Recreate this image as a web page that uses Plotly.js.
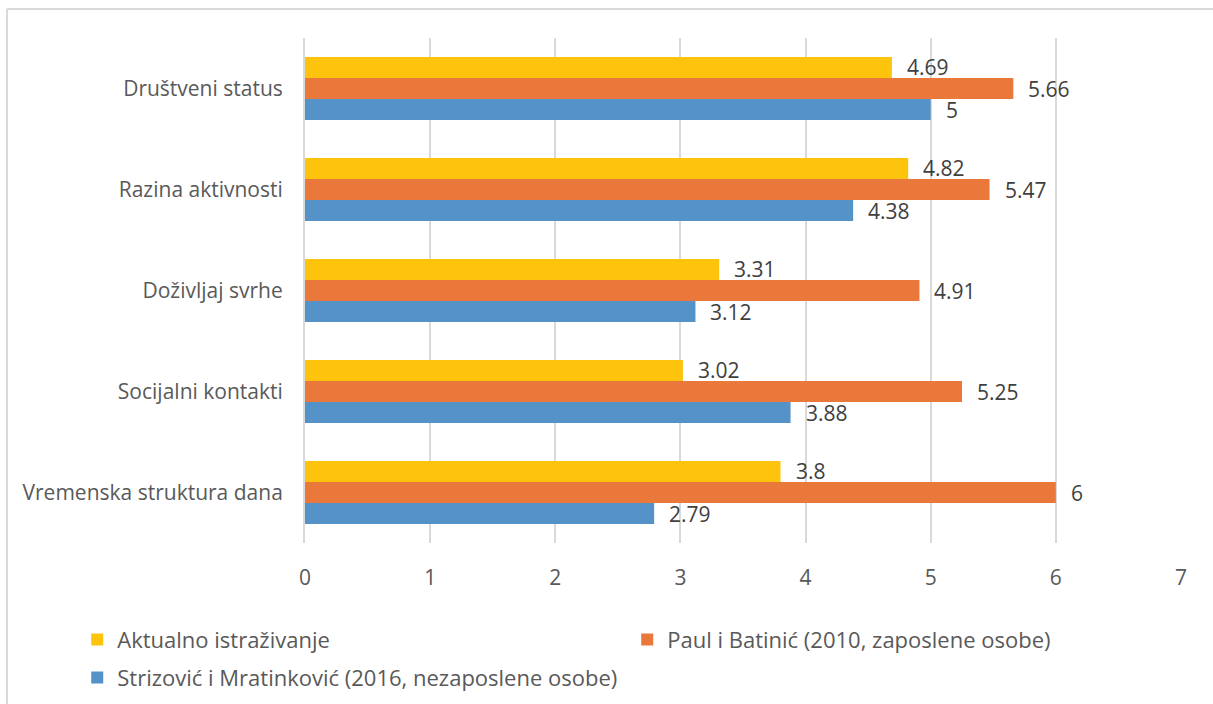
<!DOCTYPE html>
<html>
<head>
<meta charset="utf-8">
<script src="https://cdn.plot.ly/plotly-3.0.1.min.js"></script>
<style>html,body{margin:0;padding:0;background:#fff;}#chart{width:1213px;height:704px;}</style>
</head>
<body>
<div id="chart"></div>
<script>
const categories = ["Vremenska struktura dana", "Socijalni kontakti", "Doživljaj svrhe", "Razina aktivnosti", "Društveni status"];
const seriesNames = ["Strizović i Mratinković (2016, nezaposlene osobe)", "Paul i Batinić (2010, zaposlene osobe)", "Aktualno istraživanje"];
const strizovic = [2.79, 3.88, 3.12, 4.38, 5];
const paul = [6, 5.25, 4.91, 5.47, 5.66];
const aktualno = [3.8, 3.02, 3.31, 4.82, 4.69];
const xTicks = [0, 1, 2, 3, 4, 5, 6, 7];
const colors = ["#5592C8", "#E9783A", "#FEC30D"];

const FONT = "Open Sans";
const seriesValues = [strizovic, paul, aktualno];
const legendIds = ["legend2", "legend", "legend"];
const traces = seriesValues.map((vals, i) => ({
  type: "bar", orientation: "h", name: seriesNames[i],
  y: categories, x: vals, legend: legendIds[i],
  marker: {color: colors[i], line: {width: 0}},
  hoverinfo: "x"
}));

const bargap = 0.376;
const barW = (1 - bargap) / 3;
const annotations = [];
seriesValues.forEach((vals, i) => {
  vals.forEach((v, j) => {
    annotations.push({
      x: v, y: j + (i - 1) * barW, xref: "x", yref: "y",
      text: String(v), showarrow: false, xanchor: "left", yanchor: "middle",
      xshift: 13, font: {family: FONT, size: 21, color: "#404040"}
    });
  });
});

const legendFont = {family: FONT, size: 22, color: "#595959"};
const layout = {
  width: 1213, height: 704,
  margin: {l: 305, r: 32, t: 38, b: 161, autoexpand: false},
  paper_bgcolor: "#fff", plot_bgcolor: "#fff",
  barmode: "group", bargap: bargap, bargroupgap: 0,
  font: {family: FONT, size: 21, color: "#595959"},
  xaxis: {
    range: [0, 7], tickvals: xTicks, ticktext: xTicks.map(String),
    showgrid: true, gridcolor: "#d9d9d9", gridwidth: 2,
    zeroline: false, showline: false,
    ticks: "outside", ticklen: 16, tickcolor: "rgba(0,0,0,0)",
    tickfont: {family: FONT, size: 21, color: "#595959"}, fixedrange: true
  },
  yaxis: {
    type: "category", showgrid: false, zeroline: false,
    showline: true, linecolor: "#d9d9d9", linewidth: 2,
    ticks: "outside", ticklen: 16, tickcolor: "rgba(0,0,0,0)",
    tickfont: {family: FONT, size: 21, color: "#595959"}, fixedrange: true
  },
  showlegend: true,
  legend: {
    orientation: "h", traceorder: "reversed",
    x: -0.26, xanchor: "left", y: -0.1499, yanchor: "top",
    entrywidth: 505, entrywidthmode: "pixels",
    font: legendFont, bgcolor: "rgba(0,0,0,0)", itemclick: false, itemdoubleclick: false
  },
  legend2: {
    orientation: "h",
    x: -0.26, xanchor: "left", y: -0.2251, yanchor: "top",
    font: legendFont, bgcolor: "rgba(0,0,0,0)", itemclick: false, itemdoubleclick: false
  },
  annotations: annotations,
  shapes: [
    {type: "line", xref: "paper", yref: "paper", x0: -0.3402, x1: 1.05, y0: 1.0574, y1: 1.0574,
     line: {color: "#d9d9d9", width: 2}, layer: "below"},
    {type: "line", xref: "paper", yref: "paper", x0: -0.3402, x1: -0.3402, y0: 1.0574, y1: -0.6,
     line: {color: "#d9d9d9", width: 2}, layer: "below"}
  ]
};

Plotly.newPlot("chart", traces, layout, {displayModeBar: false, staticPlot: true});
</script>
</body>
</html>
